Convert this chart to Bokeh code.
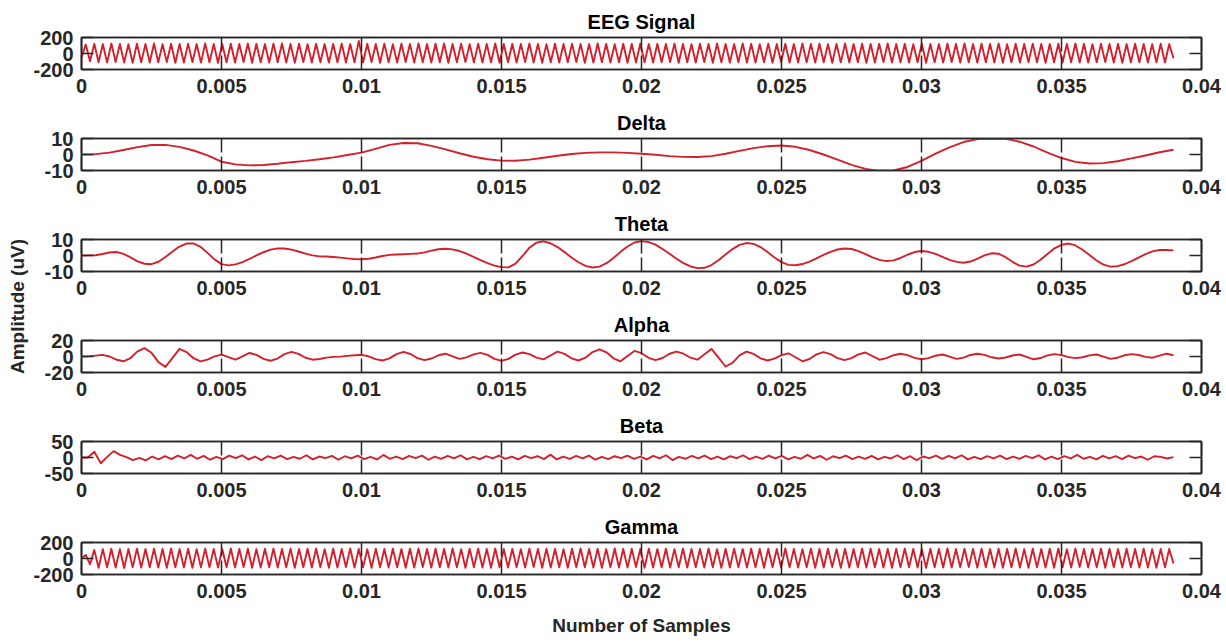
import numpy as np
from bokeh.plotting import figure
from bokeh.layouts import column, row
from bokeh.models import FixedTicker, LinearAxis, Range1d
from bokeh.embed import file_html
from bokeh.resources import INLINE
from bokeh.core.properties import value

FONT = "Liberation Sans"
INK = "#262626"
RED = "#d4202c"

T_END = 0.039  # last sample time

X_TICKS = [0, 0.005, 0.01, 0.015, 0.02, 0.025, 0.03, 0.035, 0.04]
X_TICK_LABELS = ["0", "0.005", "0.01", "0.015", "0.02", "0.025", "0.03", "0.035", "0.04"]

# raw recording (peak / trough samples, evenly spaced over 0..T_END)
eeg = [-50,
       112, -98, 121, -110, 118, -114, 124, -108, 119, -112, 116, -117, 122, -109, 120, -113,
       125, -111, 117, -106, 121, -115, 119, -112, 123, -108, 118, -114, 126, -110, 120, -116,
       117, -109, 122, -113, 119, -107, 124, -115, 121, -111, 118, -113, 123, -109, 125, -112,
       119, -116, 122, -108, 117, -112, 121, -110, 118, -114, 120, -109, 124, -113, 118, -111,
       158, -112, 121, -108, 119, -115, 123, -111, 117, -113, 122, -107, 120, -114, 125, -110,
       118, -113, 121, -109, 124, -116, 119, -111, 122, -108, 117, -114, 123, -112, 120, -109,
       125, -115, 118, -110, 121, -113, 119, -107, 124, -112, 120, -116, 117, -109, 122, -114,
       119, -111, 123, -108, 120, -115, 118, -112, 125, -110, 121, -113, 117, -109, 122, -116,
       120, -112, 124, -109, 118, -114, 121, -111, 119, -107, 123, -115, 120, -110, 117, -113,
       122, -108, 119, -116, 124, -111, 120, -113, 118, -109, 125, -112, 121, -114, 117, -110,
       123, -115, 119, -108, 121, -112, 118, -114, 124, -110, 120, -113, 122, -109, 117, -116,
       120, -111, 125, -113, 118, -109, 122, -115, 119, -112, 121, -108, 124, -114, 118, -110,
       121, -113, 117, -109, 123, -116, 120, -111, 118, -114, 122, -108, 119, -112, 125, -110,
       118, -114, 122, -109, 120, -112, 124, -115, 117, -110, 121, -113, 119, -108, 123, -111,
       120, -116, 118, -110, 122, -113, 119, -109, 124, -112, 121, -114, 117, -111, 123, -108,
       119, -112, 121, -115, 118, -109, 122, -111, 120, -113, 117, -110, 121, -114, 118, -60]

# delta band, one sample every 0.5 ms
delta = [0, 0.2, 1.2, 2.8, 4.6, 5.9, 6.0, 4.8, 2.5, -0.5,
         -4.5, -6.2, -6.8, -6.6, -5.8, -4.8, -4.0, -3.0, -1.8, -0.3,
         1.2, 3.5, 6.0, 7.2, 7.0, 5.4, 3.2, 0.8, -1.4, -3.0,
         -3.8, -3.9, -3.2, -2.0, -0.8, 0.3, 1.0, 1.3, 1.3, 1.0,
         0.5, -0.2, -1.0, -1.5, -1.6, -1.0, 0.5, 2.3, 4.0, 5.2,
         5.6, 4.8, 2.8, 0.0, -3.2, -6.5, -9.0, -10.2, -10.0, -7.8,
         -4.0, 0.5, 4.5, 7.8, 9.6, 10.0, 9.8, 8.0, 5.0, 1.2,
         -2.2, -4.6, -5.6, -5.4, -4.2, -2.4, -0.6, 1.4, 3.0]

# theta band, one sample every 0.25 ms
theta = [0, 0.05, 0.18, 0.94, 1.89, 2.17, 1.06, -1.19, -3.65, -5.15,
         -5.45, -3.9, -0.98, 2.48, 5.59, 7.48, 7.6, 5.45, 1.64, -2.42,
         -5.4, -6.18, -5.56, -4.17, -2.18, 0.04, 2.04, 3.64, 4.43, 4.38,
         3.66, 2.48, 1.16, 0.05, -0.54, -0.65, -0.92, -1.35, -1.81, -2.16,
         -2.3, -2.0, -1.23, -0.3, 0.4, 0.61, 0.8, 0.99, 1.21, 1.99,
         3.02, 3.88, 4.2, 3.84, 2.8, 1.16, -0.83, -2.9, -4.81, -6.33,
         -7.27, -7.43, -5.09, -0.32, 4.88, 8.04, 8.88, 7.68, 5.25, 2.12,
         -1.28, -4.2, -6.51, -7.47, -6.94, -4.81, -1.51, 2.27, 5.65, 8.14,
         9.0, 8.42, 6.76, 4.07, 1.13, -2.02, -4.77, -6.86, -7.9, -7.7,
         -5.95, -2.94, 0.63, 4.0, 6.62, 7.77, 7.27, 5.28, 2.17, -1.23,
         -4.16, -5.89, -6.13, -5.35, -3.79, -1.78, 0.4, 2.28, 3.76, 4.38,
         4.06, 2.77, 0.86, -1.13, -2.75, -3.48, -3.08, -1.55, 0.47, 2.17,
         2.8, 2.31, 0.98, -0.85, -2.68, -4.01, -4.5, -3.78, -1.92, 0.12,
         1.38, 1.12, -1.05, -3.94, -6.32, -6.96, -5.62, -2.65, 0.98, 4.51,
         6.63, 7.47, 6.28, 3.59, 0.25, -3.09, -5.7, -6.97, -6.69, -5.47,
         -3.53, -1.29, 0.88, 2.56, 3.42, 3.42, 3.2]

# alpha band, one sample every 0.25 ms
alpha = [0, 0.1, 1.05, 2, 0, -4, -6, -1.9, 6.4, 10.5,
         4.6, -7.1, -13, -1.75, 9.5, 5.6, -2.1, -6, -3.9, 0.2,
         2.3, -0.85, -4, 0.2, 4.4, 2.0, -2.9, -5.3, -2.55, 2.95,
         5.7, 3.3, -1.6, -4, -3.1, -1.4, -0.5, -0.14, 0.75, 1.64,
         2, 0.25, -3.25, -5, -2.3, 3.0, 5.7, 3.15, -1.95, -4.5,
         -2.5, 1.5, 3.5, 0.25, -3, -1.1, 2.6, 4.5, 2.0, -3.0,
         -5.5, -2.9, 2.4, 5, 2.9, -1.4, -3.5, 1.25, 6, 3.25,
         -2.25, -5, -1.5, 5.5, 9, 5.25, -2.25, -6, 0.5, 7,
         4.1, -1.6, -4.5, -1.9, 3.4, 6, 3.5, -1.5, -4, 2.75,
         9.5, -1.5, -12.5, -7.9, 1.4, 6, 3.25, -2.25, -5, -2.75,
         1.75, 4, -1, -6, -3.1, 2.6, 5.5, 3.0, -2.0, -4.5,
         -2.1, 2.6, 5, 0.5, -4, -2.1, 1.6, 3.5, 1.75, -1.75,
         -3.5, -2, 1, 2.5, -0.25, -3, -1.4, 1.9, 3.5, 2,
         -1, -2.5, -1.25, 1.25, 2.5, -0.5, -3.5, -1.9, 1.4, 3,
         1.75, -0.75, -2, -0.9, 1.4, 2.5, -0.25, -3, -1.5, 1.5,
         3, 1.9, -0.4, -1.5, 1, 3.5, 1.5]

# beta band (peak / trough samples, evenly spaced over 0..T_END)
beta = [0, 0, 18, -18, 2, 20, 8, 1, -8, -1, -9, 3, -6, 4, -5, 6, -3, 8, -4, 5,
        -7, 2, -5, 6, -2, 7, -6, 3, -8, 4, -3, 6, -5, 2, -4, 7, -6, 3, -2, 5,
        -7, 4, -3, 6, -5, 2, -6, 8, -4, 3, -5, 5, -2, 6, -7, 3, -4, 5, -3, 7,
        -6, 2, -5, 4, -3, 6, -4, 3, -6, 5, -2, 4, -5, 9, -6, 3, -4, 5, -3, 6,
        -7, 2, -5, 4, -2, 6, -4, 3, -6, 5, -3, 7, -8, 2, -4, 5, -3, 6, -5, 3,
        -6, 4, -2, 7, -5, 3, -4, 6, -3, 5, -6, 2, -4, 8, -3, 5, -7, 4, -2, 6,
        -5, 3, -4, 5, -6, 2, -3, 7, -5, 4, -8, 3, -2, 6, -4, 5, -3, 7, -6, 2,
        -5, 4, -3, 6, -5, 3, -4, 5, -2, 7, -6, 3, -5, 4, -3, 8, -4, 2, -6, 5,
        -3, 4, -5, 6, -2, 3, -7, 4, 2, -3, 1]

# gamma band (peak / trough samples, evenly spaced over 0..T_END)
gamma = [0,
         45, -72, 108, -115, 117, -110, 121, -113, 116, -118, 119, -111, 123, -114, 118, -109,
         122, -113, 119, -116, 124, -110, 118, -112, 121, -115, 117, -109, 123, -111, 120, -114,
         118, -110, 125, -113, 119, -108, 122, -116, 117, -112, 121, -109, 124, -114, 119, -111,
         123, -115, 118, -109, 121, -113, 124, -110, 117, -116, 122, -112, 119, -108, 125, -114,
         120, -111, 117, -115, 123, -109, 119, -113, 122, -110, 118, -116, 121, -112, 124, -108,
         118, -114, 122, -110, 119, -113, 125, -111, 117, -115, 121, -109, 123, -112, 120, -116,
         124, -109, 118, -113, 121, -111, 117, -114, 123, -108, 120, -115, 122, -112, 119, -110,
         117, -116, 122, -111, 124, -109, 119, -113, 121, -115, 118, -110, 125, -112, 120, -114,
         121, -108, 119, -115, 123, -112, 118, -110, 122, -114, 117, -109, 124, -113, 120, -111,
         119, -113, 124, -110, 117, -116, 121, -112, 123, -109, 118, -114, 122, -111, 120, -115,
         122, -109, 118, -114, 125, -111, 120, -113, 117, -110, 123, -116, 119, -112, 121, -108,
         117, -115, 121, -112, 119, -109, 124, -114, 122, -110, 118, -113, 120, -116, 123, -111,
         124, -110, 119, -113, 117, -115, 122, -109, 120, -112, 125, -114, 118, -111, 121, -108,
         120, -114, 123, -109, 118, -112, 121, -116, 119, -110, 124, -113, 117, -115, 122, -109,
         118, -112, 121, -115, 124, -110, 117, -113, 123, -108, 120, -114, 119, -111, 122, -116,
         121, -110, 118, -113, 122, -109, 119, -114, 123, -112, 117, -115, 120, -111, 119, -62]


def spread(vals):
    """Times for samples spread evenly from 0 to T_END."""
    return np.linspace(0.0, T_END, len(vals))


def stepped(vals, dt):
    """Times for samples taken at a fixed interval dt."""
    return np.arange(len(vals)) * dt


panels = [
    ("EEG Signal", spread(eeg), eeg, 200, [-200, 0, 200]),
    ("Delta", stepped(delta, 0.0005), delta, 10, [-10, 0, 10]),
    ("Theta", stepped(theta, 0.00025), theta, 10, [-10, 0, 10]),
    ("Alpha", stepped(alpha, 0.00025), alpha, 20, [-20, 0, 20]),
    ("Beta", spread(beta), beta, 50, [-50, 0, 50]),
    ("Gamma", spread(gamma), gamma, 200, [-200, 0, 200]),
]

LABEL_PX = "20px"


def style_axis(ax, ticks, tick_in, labels=None):
    ax.ticker = FixedTicker(ticks=ticks)
    ax.major_tick_in = tick_in
    ax.major_tick_out = 0
    ax.minor_tick_line_color = None
    ax.major_tick_line_color = INK
    ax.major_tick_line_width = 1.5
    ax.axis_line_color = INK
    ax.axis_line_width = 1.5
    if labels is not None:
        ax.major_label_text_font = FONT
        ax.major_label_text_font_style = "bold"
        ax.major_label_text_font_size = LABEL_PX
        ax.major_label_text_color = INK
        ax.major_label_overrides = dict(zip(ticks, labels))
    else:
        # tick marks only on the opposite sides of the box
        ax.major_label_text_color = None
        ax.major_label_text_font_size = "1px"
        ax.major_label_standoff = 0


def make_panel(title, t, vals, lim, yticks, first=False, last=False):
    p = figure(frame_width=1120, frame_height=32,
               x_range=Range1d(0, 0.04), y_range=Range1d(-lim, lim),
               output_backend="svg", toolbar_location=None,
               min_border_left=48, min_border_right=28,
               min_border_top=37 if first else 35,
               min_border_bottom=68 if last else 34,
               title=title)
    p.line(t, vals, line_color=RED, line_width=1.9, line_join="round")
    p.xgrid.visible = False
    p.ygrid.visible = False
    p.outline_line_color = INK
    p.outline_line_width = 1.5
    p.background_fill_color = "white"
    p.border_fill_color = "white"

    p.title.align = "center"
    p.title.text_font = FONT
    p.title.text_font_style = "bold"
    p.title.text_font_size = LABEL_PX
    p.title.text_color = "#000000"

    bottom = p.below[0]
    left = p.left[0]
    style_axis(bottom, X_TICKS, 14, X_TICK_LABELS)
    bottom.major_label_standoff = 9
    style_axis(left, yticks, 12, [str(v) for v in yticks])
    left.major_label_standoff = 8

    top = LinearAxis()
    style_axis(top, X_TICKS, 14)
    p.add_layout(top, "above")
    right = LinearAxis()
    style_axis(right, yticks, 12)
    p.add_layout(right, "right")

    if last:
        bottom.axis_label = "Number of Samples"
        bottom.axis_label_text_font = FONT
        bottom.axis_label_text_font_style = "bold"
        bottom.axis_label_text_font_size = "19px"
        bottom.axis_label_text_color = INK
        bottom.axis_label_standoff = 14
    return p


figs = [make_panel(*spec, first=(i == 0), last=(i == len(panels) - 1))
        for i, spec in enumerate(panels)]

# shared y-axis caption
lab = figure(width=30, height=642, x_range=Range1d(0, 30), y_range=Range1d(0, 642),
             output_backend="svg", toolbar_location=None,
             min_border=0, outline_line_color=None)
lab.axis.visible = False
lab.xgrid.visible = False
lab.ygrid.visible = False
lab.text(x=[17], y=[336], text=["Amplitude (uV)"], angle=np.pi / 2,
         text_align="center", text_baseline="middle",
         text_font=value(FONT), text_font_style="bold", text_font_size="19px",
         text_color=INK)

layout = row(lab, column(*figs, spacing=0), spacing=0)
open("out.html", "w").write(file_html(layout, INLINE))
